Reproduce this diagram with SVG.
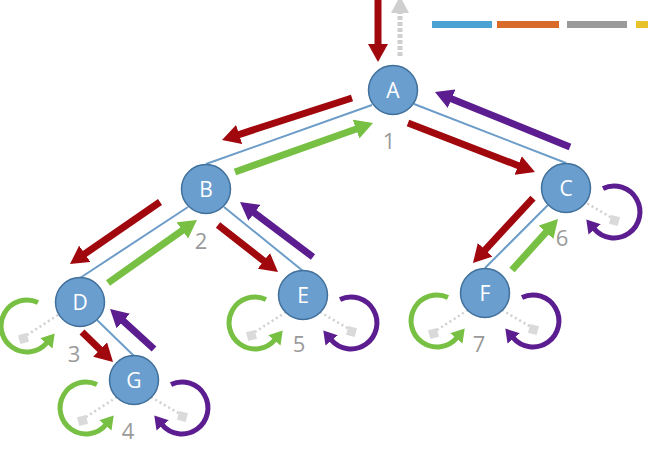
<svg xmlns="http://www.w3.org/2000/svg" width="648" height="453" viewBox="0 0 648 453">
<style>
.edge{stroke:#6c9cc8;stroke-width:2;fill:none}
.node circle{fill:#6a9ecf;stroke:#41709b;stroke-width:1.5}
.node text{fill:#fff;font-family:"Open Sans","Liberation Sans",sans-serif;font-size:21px;text-anchor:middle;dominant-baseline:central}
.num{fill:#9a9a9a;font-family:"Open Sans","Liberation Sans",sans-serif;font-size:22px;text-anchor:middle;dominant-baseline:central}
.red{stroke:#a0080e;stroke-width:7;fill:none}
.green{stroke:#77c043;stroke-width:7;fill:none}
.purple{stroke:#5b1d8f;stroke-width:7;fill:none}
.lg{stroke:#77c043;stroke-width:5;fill:none}
.lp{stroke:#5b1d8f;stroke-width:5;fill:none}
.dot{stroke:#d0d0d0;stroke-width:2.5;stroke-dasharray:2 3;fill:none}
.sq{fill:#dadada}
</style>
<defs>
<marker id="hr" markerUnits="userSpaceOnUse" markerWidth="20" markerHeight="20" viewBox="0 0 20 20" refX="1" refY="10" orient="auto"><path d="M0,0 L18,10 L0,20 z" fill="#a0080e"/></marker>
<marker id="hg" markerUnits="userSpaceOnUse" markerWidth="20" markerHeight="20" viewBox="0 0 20 20" refX="1" refY="10" orient="auto"><path d="M0,0 L18,10 L0,20 z" fill="#77c043"/></marker>
<marker id="hp" markerUnits="userSpaceOnUse" markerWidth="20" markerHeight="20" viewBox="0 0 20 20" refX="1" refY="10" orient="auto"><path d="M0,0 L18,10 L0,20 z" fill="#5b1d8f"/></marker>
<marker id="lhg" markerUnits="userSpaceOnUse" markerWidth="16" markerHeight="16" viewBox="0 0 16 16" refX="1" refY="8" orient="auto"><path d="M0,0 L13,8 L0,16 z" fill="#77c043"/></marker>
<marker id="lhp" markerUnits="userSpaceOnUse" markerWidth="16" markerHeight="16" viewBox="0 0 16 16" refX="1" refY="8" orient="auto"><path d="M0,0 L13,8 L0,16 z" fill="#5b1d8f"/></marker>
<g id="leftLoop">
<line class="dot" x1="-17" y1="17" x2="-48" y2="37"/>
<rect class="sq" x="-56" y="36" width="9" height="9" transform="rotate(-15 -51.5 40.5)"/>
<path class="lg" d="M-37,4.4 A26,26 0 1 0 -28,44.7" marker-end="url(#lhg)"/>
</g>
<g id="rightLoop">
<line class="dot" x1="17" y1="17" x2="46" y2="34"/>
<rect class="sq" x="44" y="32" width="9" height="9" transform="rotate(15 48.5 36.5)"/>
<path class="lp" d="M37,4.4 A26,26 0 1 1 28,44.7" marker-end="url(#lhp)"/>
</g>
</defs>
<g id="legend">
<rect x="432" y="21" width="60" height="7" fill="#4ba3d3"/>
<rect x="497" y="21" width="62" height="7" fill="#d86a2a"/>
<rect x="567" y="21" width="60" height="7" fill="#9a9a9a"/>
<rect x="636" y="21" width="14" height="7" fill="#e8c22a"/>
</g>
<g id="connectors">
<line class="edge" x1="372" y1="105" x2="206" y2="164"/>
<line class="edge" x1="414" y1="104" x2="566" y2="163"/>
<line class="edge" x1="188" y1="207" x2="80" y2="278"/>
<line class="edge" x1="224" y1="207" x2="303" y2="271"/>
<line class="edge" x1="548" y1="205" x2="485" y2="268"/>
<line class="edge" x1="97" y1="320" x2="134" y2="356"/>
<line class="red" x1="378" y1="0" x2="378" y2="45" marker-end="url(#hr)"/>
<line x1="400" y1="56" x2="400" y2="12" stroke="#cfcfcf" stroke-width="5" stroke-dasharray="4 2"/>
<path d="M391,13 L409,13 L400,-4 z" fill="#cfcfcf"/>
<line class="red" x1="352" y1="98" x2="238.2" y2="134.8" marker-end="url(#hr)"/>
<line class="green" x1="235" y1="172" x2="357" y2="128.7" marker-end="url(#hg)"/>
<line class="red" x1="408" y1="123" x2="519.1" y2="165.9" marker-end="url(#hr)"/>
<line class="purple" x1="570" y1="147" x2="450.7" y2="98.4" marker-end="url(#hp)"/>
<line class="red" x1="160" y1="202" x2="84" y2="254.4" marker-end="url(#hr)"/>
<line class="green" x1="108" y1="283" x2="183.1" y2="229.8" marker-end="url(#hg)"/>
<line class="red" x1="218" y1="225" x2="264.6" y2="261.5" marker-end="url(#hr)"/>
<line class="purple" x1="313" y1="257" x2="253.6" y2="212.2" marker-end="url(#hp)"/>
<line class="red" x1="533" y1="198" x2="484.5" y2="250.5" marker-end="url(#hr)"/>
<line class="green" x1="512" y1="270" x2="546.6" y2="231.6" marker-end="url(#hg)"/>
<line class="red" x1="82" y1="332" x2="100.8" y2="350.2" marker-end="url(#hr)"/>
<line class="purple" x1="154" y1="349" x2="122.6" y2="320.4" marker-end="url(#hp)"/>
<use href="#leftLoop" transform="translate(75,298)"/>
<use href="#leftLoop" transform="translate(134,380)"/>
<use href="#rightLoop" transform="translate(134,380)"/>
<use href="#leftLoop" transform="translate(303,295)"/>
<use href="#rightLoop" transform="translate(303,295)"/>
<use href="#leftLoop" transform="translate(485,293)"/>
<use href="#rightLoop" transform="translate(485,293)"/>
<use href="#rightLoop" transform="translate(566,184)"/>
</g>
<g id="nodeA" class="node"><circle cx="393" cy="90" r="24.5"/><text x="393" y="90">A</text></g>
<g id="nodeB" class="node"><circle cx="206" cy="189" r="24.5"/><text x="206" y="189">B</text></g>
<g id="nodeC" class="node"><circle cx="566" cy="188" r="24.5"/><text x="566" y="188">C</text></g>
<g id="nodeD" class="node"><circle cx="80" cy="302" r="24.5"/><text x="80" y="302">D</text></g>
<g id="nodeE" class="node"><circle cx="303" cy="295" r="24.5"/><text x="303" y="295">E</text></g>
<g id="nodeF" class="node"><circle cx="485" cy="293" r="24.5"/><text x="485" y="293">F</text></g>
<g id="nodeG" class="node"><circle cx="134" cy="380" r="24.5"/><text x="134" y="380">G</text></g>
<g id="labels">
<text class="num" x="389" y="140">1</text>
<text class="num" x="201" y="240">2</text>
<text class="num" x="74" y="353">3</text>
<text class="num" x="128" y="430">4</text>
<text class="num" x="299" y="343">5</text>
<text class="num" x="562" y="237">6</text>
<text class="num" x="479" y="343">7</text>
</g>
</svg>
